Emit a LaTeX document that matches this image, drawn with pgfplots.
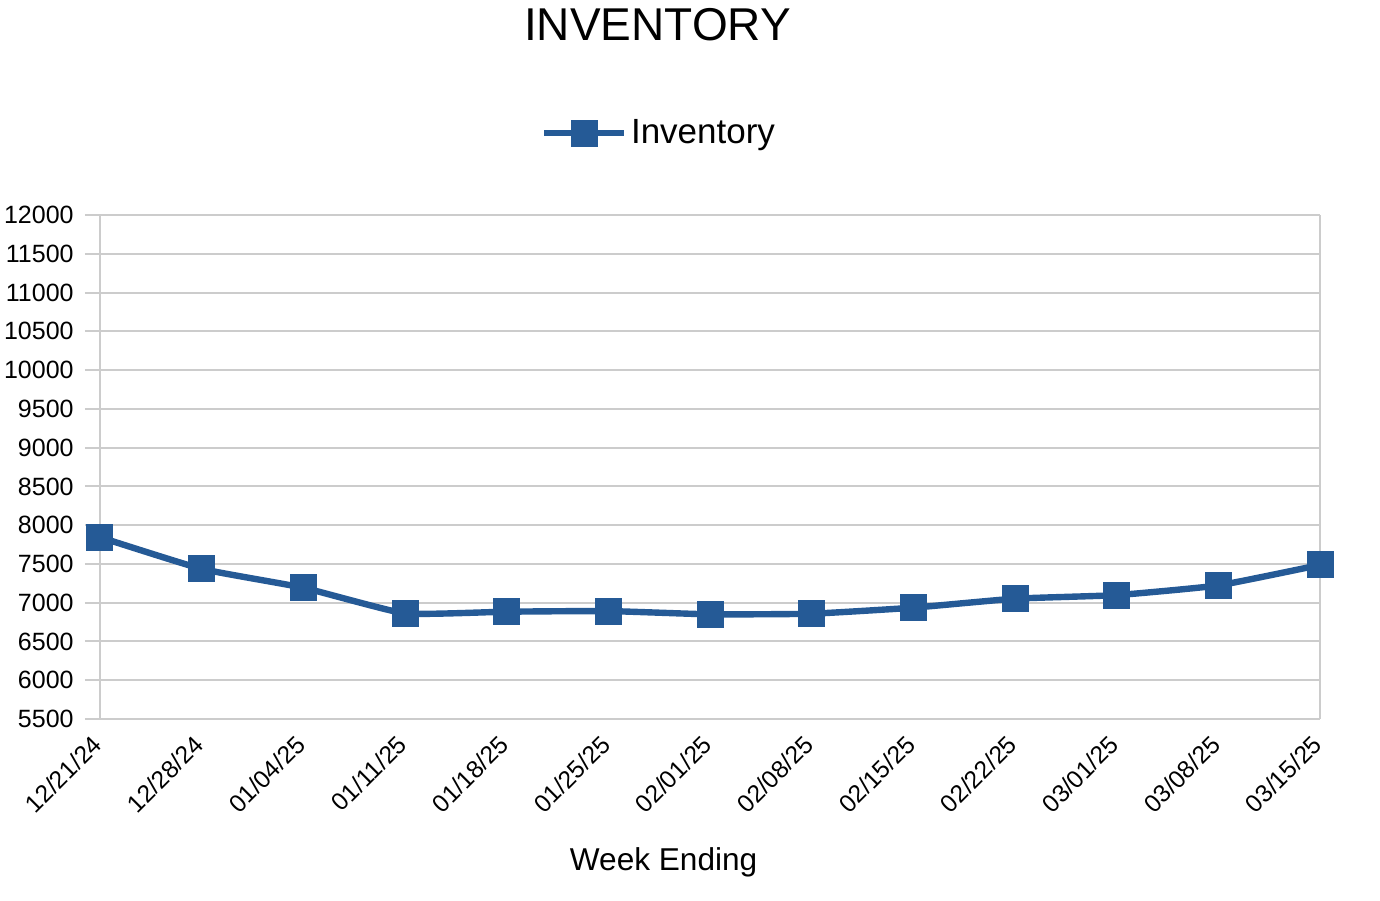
\documentclass[border=0pt]{standalone}
\usepackage{pgfplots}
\pgfplotsset{compat=1.18}
\usepackage{fontspec}
\setmainfont{Liberation Sans}
\definecolor{inv}{HTML}{255A96}
\definecolor{gridc}{HTML}{CCCCCC}
\begin{document}
\begin{tikzpicture}
\path[use as bounding box] (-50pt,-90.5pt) rectangle (640pt,359.5pt);
\begin{axis}[
  scale only axis,
  width=610pt, height=252pt,
  anchor=south west, at={(0,0)},
  xmin=0, xmax=12,
  ymin=5500, ymax=12000,
  ytick distance=500,
  xtick={0,...,12},
  xticklabels={12/21/24,12/28/24,01/04/25,01/11/25,01/18/25,01/25/25,02/01/25,02/08/25,02/15/25,02/22/25,03/01/25,03/08/25,03/15/25},
  xticklabel style={rotate=45, anchor=north east, font=\fontsize{12.3}{14}\selectfont, inner sep=0pt, yshift=3.5pt, xshift=-3pt},
  yticklabel style={font=\fontsize{12.5}{14}\selectfont, inner sep=1pt, xshift=-4.5pt},
  /pgf/number format/assume math mode=true,
  /pgf/number format/1000 sep={},
  scaled y ticks=false,
  ymajorgrids,
  grid style={gridc, line width=1pt},
  axis line style={gridc, line width=1.2pt},
  axis x line*=bottom,
  axis y line*=left,
  ytick style={gridc, line width=1pt},
  xtick style={draw=none},
  tick align=outside,
  major tick length=7.5pt,
  clip=false,
  xlabel={Week Ending},
  xlabel style={font=\fontsize{15.8}{18}\selectfont, at={(0.462,0)}, anchor=center, yshift=-71.5pt},
  title={INVENTORY},
  title style={font=\fontsize{23}{26}\selectfont, at={(0.457,1)}, anchor=center, yshift=89pt},
  legend style={at={(0.459,1)}, anchor=center, yshift=41pt, draw=none, fill=none, font=\fontsize{17.5}{20}\selectfont, legend cell align=left},
  legend image code/.code={
    \draw[#1, mark repeat=2, mark phase=2] plot coordinates {(0cm,0cm) (0.7cm,0cm) (1.4cm,0cm)};
  },
]
\draw[gridc, line width=1pt] (axis cs:12,5500) -- (axis cs:12,12000);
\addplot[inv, line width=3.2pt, smooth, tension=0.25, mark=square*, mark size=6.5pt, mark options={solid, fill=inv, draw=inv, line width=0.5pt}]
coordinates {
(0,7845) (1,7436) (2,7193) (3,6862) (4,6884) (5,6892) (6,6850) (7,6858) (8,6936) (9,7052) (10,7098) (11,7223) (12,7487)
};
\addlegendentry{Inventory}
\end{axis}
\end{tikzpicture}
\end{document}
